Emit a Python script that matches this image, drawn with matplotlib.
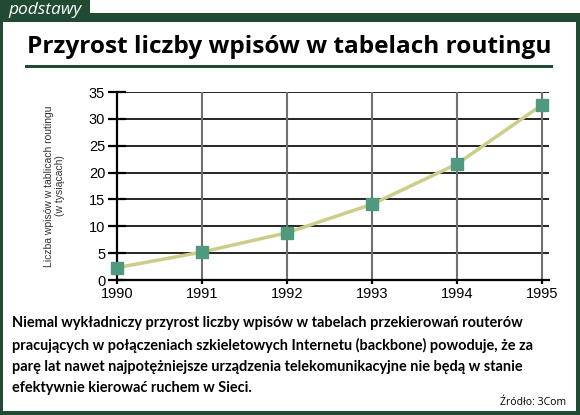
import matplotlib
matplotlib.use('Agg')
import matplotlib.pyplot as plt
from matplotlib.patches import Rectangle

# data
years = [1990, 1991, 1992, 1993, 1994, 1995]
entries = [2.3, 5.2, 8.8, 14.1, 21.6, 32.6]  # thousands
y_ticks = [0, 5, 10, 15, 20, 25, 30, 35]

green = '#214a32'
W, H = 580, 415

fig = plt.figure(figsize=(W / 100, H / 100), dpi=100)
fig.patch.set_facecolor('white')


def px_rect(x0, y0, x1, y1, color):
    # rectangle in pixel coords measured from top-left
    fig.add_artist(Rectangle((x0 / W, 1 - y1 / H), (x1 - x0) / W, (y1 - y0) / H,
                             transform=fig.transFigure, color=color, lw=0))


# frame
px_rect(0, 0, 90, 22, green)
px_rect(0, 13, 579, 22, green)
px_rect(0, 13, 3, 415, green)
px_rect(576, 13, 580, 415, green)
px_rect(0, 411, 580, 415, green)
px_rect(25, 65, 553, 68, green)

fig.text(8 / W, 1 - 10 / H, 'podstawy', color='white', fontsize=12.5, style='italic',
         family='Open Sans', va='center', ha='left')
fig.text(289 / W, 1 - 47 / H, 'Przyrost liczby wpisów w tabelach routingu',
         fontsize=17.6, weight='bold', family='Open Sans', ha='center', va='center')

ax = fig.add_axes([117 / W, 135 / H, 432 / W, 188 / H])
ax.plot(years, entries, color='#cdcd8a', lw=2.5, zorder=3, clip_on=False)
ax.plot(years, entries, ls='none', marker='s', ms=8, color='#4f9a7f', zorder=4, clip_on=False)

ax.set_xlim(1990, 1995 + 7 / 85)
ax.set_ylim(0, 35)
ax.set_xticks(years)
ax.set_yticks(y_ticks)
ax.grid(axis='y', color='black', lw=1.2)
for yr in years[1:]:
    ax.axvline(yr, color='#707070', lw=1.5, zorder=1)
ax.set_axisbelow(True)
for s in ['top', 'right']:
    ax.spines[s].set_visible(False)
ax.spines['left'].set_linewidth(1.6)
ax.spines['bottom'].set_linewidth(1.6)
ax.tick_params(axis='y', direction='inout', length=13, width=1.6, labelsize=10.5, pad=2)
ax.tick_params(axis='x', direction='out', length=3, width=1.6, labelsize=10.5, pad=2)
for lab in ax.get_yticklabels() + ax.get_xticklabels():
    lab.set_family('Liberation Sans')
ax.set_ylabel('Liczba wpisów w tablicach routingu\n(w tysiącach)', fontsize=7.5,
              color='#333333', labelpad=17, linespacing=1.2, family='Liberation Sans')

body = ('Niemal wykładniczy przyrost liczby wpisów w tabelach przekierowań routerów\n'
        'pracujących w połączeniach szkieletowych Internetu (backbone) powoduje, że za\n'
        'parę lat nawet najpotężniejsze urządzenia telekomunikacyjne nie będą w stanie\n'
        'efektywnie kierować ruchem w Sieci.')
fig.text(12 / W, 1 - 316 / H, body, fontsize=10.45, weight='bold', family='Lato',
         ha='left', va='top', linespacing=1.64)
fig.text(566 / W, 1 - 402 / H, 'Źródło: 3Com', fontsize=7.5, family='Open Sans',
         ha='right', va='center')

fig.savefig('out.png', dpi=100)
